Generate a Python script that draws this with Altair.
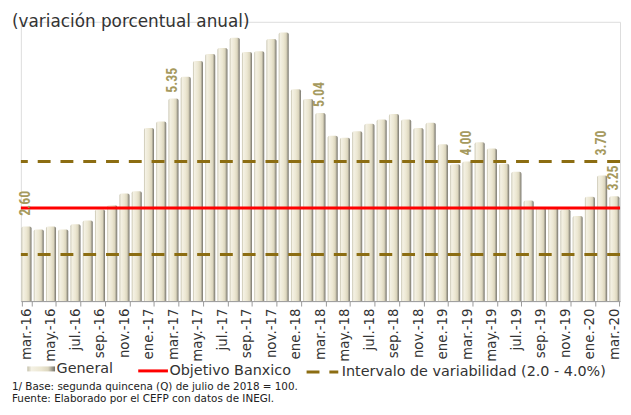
import altair as alt
import pandas as pd

months = [
    "mar.-16", "abr.-16", "may.-16", "jun.-16", "jul.-16", "ago.-16", "sep.-16", "oct.-16", "nov.-16", "dic.-16",
    "ene.-17", "feb.-17", "mar.-17", "abr.-17", "may.-17", "jun.-17", "jul.-17", "ago.-17", "sep.-17", "oct.-17", "nov.-17", "dic.-17",
    "ene.-18", "feb.-18", "mar.-18", "abr.-18", "may.-18", "jun.-18", "jul.-18", "ago.-18", "sep.-18", "oct.-18", "nov.-18", "dic.-18",
    "ene.-19", "feb.-19", "mar.-19", "abr.-19", "may.-19", "jun.-19", "jul.-19", "ago.-19", "sep.-19", "oct.-19", "nov.-19", "dic.-19",
    "ene.-20", "feb.-20", "mar.-20",
]
values = [
    2.60, 2.54, 2.60, 2.54, 2.65, 2.73, 2.97, 3.06, 3.31, 3.36,
    4.72, 4.86, 5.35, 5.82, 6.16, 6.31, 6.44, 6.66, 6.35, 6.37, 6.63, 6.77,
    5.55, 5.34, 5.04, 4.55, 4.51, 4.65, 4.81, 4.90, 5.02, 4.90, 4.72, 4.83,
    4.37, 3.94, 4.00, 4.41, 4.28, 3.95, 3.78, 3.16, 3.00, 3.02, 2.97, 2.83,
    3.24, 3.70, 3.25,
]
tick_months = months[::2]
labeled_months = ["mar.-17", "mar.-18", "mar.-19", "mar.-20"]
labeled_far = ["feb.-20"]
labeled_first = ["mar.-16"]

target_value = [3.0]
interval_values = [2.0, 4.0]

serie_general = "General"
serie_target = "Objetivo Banxico"
serie_interval = "Intervalo de variabilidad (2.0 - 4.0%)"
title_text = "(variación porcentual anual)"
note_1 = "1/ Base: segunda quincena (Q) de julio de 2018 = 100."
note_2 = "Fuente: Elaborado por el CEFP con datos de INEGI."

df = pd.DataFrame({"mes": months, "valor": values, "serie": serie_general})
df["etiqueta"] = df["valor"].map(lambda v: f"{v:.2f}")
target_df = pd.DataFrame({"y": target_value, "serie": serie_target})
interval_df = pd.DataFrame({"y": interval_values, "serie": serie_interval})

FONT = "DejaVu Sans"
LABEL_FONT = "Roboto Condensed, Liberation Sans Narrow, Roboto, sans-serif"
OLIVE = "#8C6D12"
KHAKI = "#A69A5E"
LEGEND_SIZE = 14.5

yscale = alt.Scale(domain=[1, 7], zero=False, nice=False)
xscale = alt.Scale(domain=months, paddingInner=0.18, paddingOuter=0.05)
xenc = alt.X(
    "mes:N",
    sort=months,
    scale=xscale,
    axis=alt.Axis(
        values=tick_months, title=None, labelAngle=270, labelAlign="right",
        labelBaseline="middle", labelFont=FONT, labelFontSize=13.5, labelColor="#333333",
        tickBand="extent", tickColor="#9a9a9a", tickSize=5, domainColor="#9a9a9a",
        labelPadding=2, grid=False,
    ),
)

bar_gradient = alt.Gradient(
    gradient="linear",
    stops=[
        alt.GradientStop(color="#c4c0ab", offset=0),
        alt.GradientStop(color="#f4f1e4", offset=0.15),
        alt.GradientStop(color="#ece7d2", offset=0.5),
        alt.GradientStop(color="#dcd6be", offset=0.75),
        alt.GradientStop(color="#74726a", offset=1),
    ],
    x1=0, x2=1, y1=0, y2=0,
)

bars = alt.Chart(df).mark_bar(fill=bar_gradient, cornerRadiusTopLeft=2, cornerRadiusTopRight=2).encode(
    x=xenc,
    y=alt.Y("valor:Q", scale=yscale, axis=None),
    y2=alt.Y2(datum=1),
    opacity=alt.Opacity(
        "serie:N", scale=alt.Scale(range=[1]),
        legend=alt.Legend(
            title=None, orient="none", legendX=6, legendY=336,
            symbolType="M-1,-0.18L1,-0.18L1,0.18L-1,0.18Z", symbolSize=784,
            symbolFillColor="#e8e3cc", symbolStrokeColor="#8a8775", symbolStrokeWidth=1,
            symbolOpacity=1, labelFont=FONT, labelFontSize=LEGEND_SIZE, labelColor="#333333", labelOffset=1,
        ),
    ),
)

interval = alt.Chart(interval_df).mark_rule(strokeWidth=3, color=OLIVE).encode(
    y=alt.Y("y:Q", scale=yscale, axis=None),
    strokeDash=alt.StrokeDash(
        "serie:N", scale=alt.Scale(range=[[13, 10]]),
        legend=alt.Legend(
            title=None, orient="none", legendX=287, legendY=336,
            symbolType="stroke", symbolSize=1024, symbolStrokeColor=OLIVE, symbolStrokeWidth=3,
            symbolDash=[20, 6],
            labelFont=FONT, labelFontSize=LEGEND_SIZE, labelColor="#333333", labelOffset=2, labelLimit=400,
        ),
    ),
)

target = alt.Chart(target_df).mark_rule(strokeWidth=3).encode(
    y=alt.Y("y:Q", scale=yscale, axis=None),
    stroke=alt.Stroke(
        "serie:N", scale=alt.Scale(range=["#FF0000"]),
        legend=alt.Legend(
            title=None, orient="none", legendX=117, legendY=336,
            symbolType="stroke", symbolSize=900, symbolStrokeWidth=3,
            labelFont=FONT, labelFontSize=LEGEND_SIZE, labelColor="#333333", labelOffset=0,
        ),
    ),
)

def value_labels(sel, gap):
    return alt.Chart(df).transform_filter(
        alt.FieldOneOfPredicate(field="mes", oneOf=sel)
    ).mark_text(
        angle=270, align="left", baseline="middle", dx=gap, font=LABEL_FONT,
        fontSize=14, fontWeight="bold", color=KHAKI,
    ).encode(
        x=alt.X("mes:N", sort=months, scale=xscale),
        y=alt.Y("valor:Q", scale=yscale, axis=None),
        text="etiqueta:N",
    )

labels_main = value_labels(labeled_months, 6)
labels_far = value_labels(labeled_far, 20)
labels_first = value_labels(labeled_first, 11)

def free_text(txt, ypos, size, color):
    return alt.Chart(pd.DataFrame({"t": [txt]})).mark_text(
        align="left", baseline="middle", font=FONT, fontSize=size, color=color
    ).encode(text="t:N", x=alt.value(-9), y=alt.value(ypos))

title = free_text(title_text, 0, 17, "#333333")
note_a = free_text(note_1, 369, 10.5, "#222222")
note_b = free_text(note_2, 381, 10.5, "#222222")

chart = alt.layer(
    bars, interval, target, labels_main, labels_far, labels_first, title, note_a, note_b
).properties(
    width=605, height=282,
    autosize=alt.AutoSizeParams(type="none"),
    padding={"left": 13, "top": 12, "right": 3, "bottom": 105},
).configure_view(stroke=None).configure(background="white")

chart.save("out.html", embed_options={"renderer": "svg", "actions": False})
